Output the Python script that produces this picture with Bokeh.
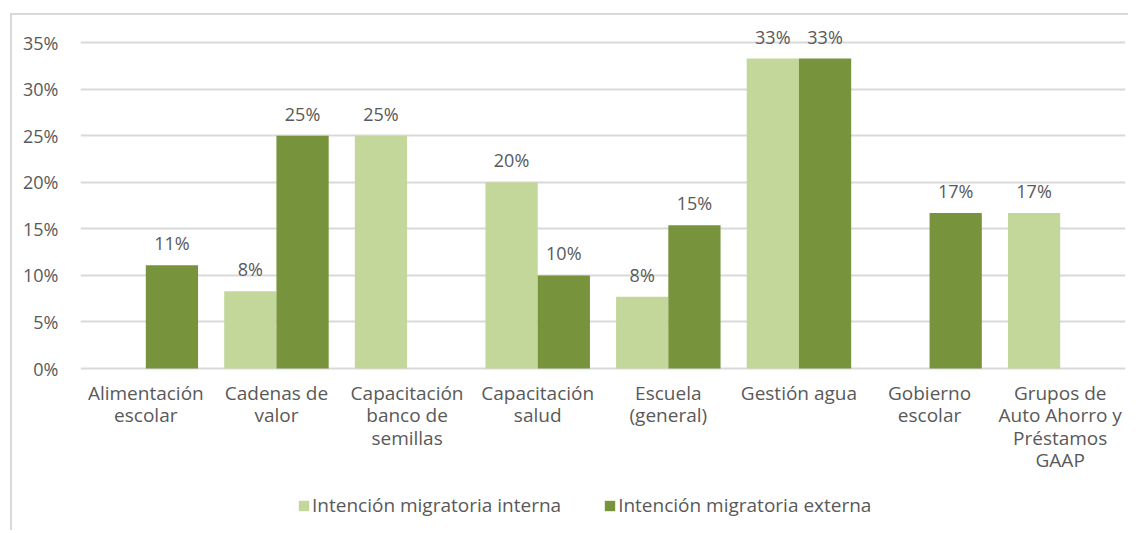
from bokeh.plotting import figure
from bokeh.models import ColumnDataSource, FactorRange, Range1d, Legend, LegendItem, FixedTicker, NumeralTickFormatter
from bokeh.core.properties import value
from bokeh.transform import dodge
from bokeh.embed import file_html
from bokeh.resources import INLINE

categories = ["Alimentación\nescolar", "Cadenas de\nvalor", "Capacitación\nbanco de\nsemillas",
              "Capacitación\nsalud", "Escuela\n(general)", "Gestión agua", "Gobierno\nescolar",
              "Grupos de\nAuto Ahorro y\nPréstamos\nGAAP"]
interna = [0.0, 0.083, 0.25, 0.20, 0.077, 0.333, 0.0, 0.167]
externa = [0.111, 0.25, 0.0, 0.10, 0.154, 0.333, 0.167, 0.0]
series_names = ["Intención migratoria interna", "Intención migratoria externa"]
y_ticks = [0, 0.05, 0.10, 0.15, 0.20, 0.25, 0.30, 0.35]

LIGHT = "#C4D79B"
DARK = "#77933C"
TXT = "#595959"
GRID = "#d9d9d9"
FONT = "Open Sans"

src = ColumnDataSource(dict(cat=categories, interna=interna, externa=externa,
                            zero=[0] * len(categories)))

# frame extends below zero so that category labels and legend can live inside it
p = figure(x_range=FactorRange(*categories), y_range=Range1d(-0.1697, 0.3792),
           width=1118, height=517, output_backend="svg", toolbar_location=None,
           min_border_left=68, min_border_right=5, min_border_top=0, min_border_bottom=6)
p.styles = {"margin-left": "10px", "margin-top": "13px",
            "border-left": "2px solid #d9d9d9", "border-top": "2px solid #d9d9d9"}

r1 = p.vbar(x=dodge("cat", -0.2, range=p.x_range), top="interna", width=0.4, source=src,
            fill_color=LIGHT, line_color=None)
r2 = p.vbar(x=dodge("cat", 0.2, range=p.x_range), top="externa", width=0.4, source=src,
            fill_color=DARK, line_color=None)

# data labels (only non-zero)
def lab_source(vals):
    xs, ys, ts = [], [], []
    for c, v in zip(categories, vals):
        if v > 0:
            xs.append(c); ys.append(v); ts.append(f"{round(v*100)}%")
    return ColumnDataSource(dict(cat=xs, y=ys, t=ts))

for vals, off in ((interna, -0.2), (externa, 0.2)):
    p.text(x=dodge("cat", off, range=p.x_range), y="y", text="t", source=lab_source(vals),
           text_align="center", text_baseline="alphabetic", y_offset=-22,
           text_font=value(FONT), text_font_size="18px", text_color=TXT)

# category labels under the zero line
p.text(x="cat", y="zero", text="cat", source=src, y_offset=11,
       text_align="center", text_baseline="top", text_line_height=0.87,
       text_font=value(FONT), text_font_size="19px", text_color=TXT)

p.xaxis.visible = False
p.yaxis.ticker = FixedTicker(ticks=y_ticks)
p.yaxis.formatter = NumeralTickFormatter(format="0%")
p.yaxis.axis_line_color = None
p.yaxis.major_tick_line_color = None
p.yaxis.minor_tick_line_color = None
p.yaxis.major_label_text_font = FONT
p.yaxis.major_label_text_font_size = "18px"
p.yaxis.major_label_text_color = TXT
p.yaxis.major_label_standoff = 16

p.xgrid.grid_line_color = None
p.ygrid.ticker = FixedTicker(ticks=y_ticks)
p.ygrid.grid_line_color = GRID
p.ygrid.grid_line_width = 1.8
p.outline_line_color = None

legend = Legend(items=[LegendItem(label=series_names[0], renderers=[r1]),
                       LegendItem(label=series_names[1], renderers=[r2])],
                orientation="horizontal", location=(217, 8),
                label_text_font=FONT, label_text_font_size="19px", label_text_color=TXT,
                glyph_width=13, glyph_height=13, spacing=42, label_standoff=2,
                border_line_color=None, background_fill_alpha=0, margin=0, padding=0)
p.add_layout(legend, "center")

open("out.html", "w").write(file_html(p, INLINE))
